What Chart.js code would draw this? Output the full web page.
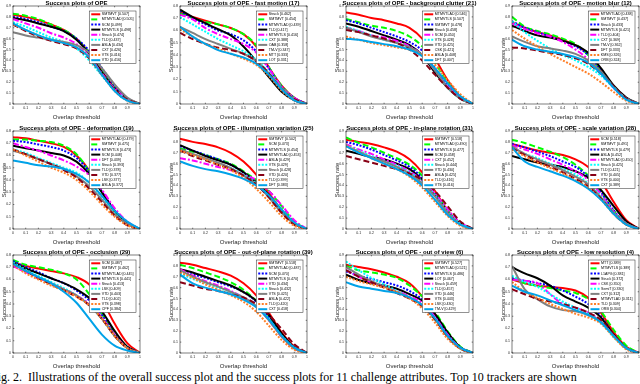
<!DOCTYPE html>
<html>
<head>
<meta charset="utf-8">
<script src="https://cdn.jsdelivr.net/npm/chart.js@4"></script>
<style>
html, body { margin: 0; padding: 0; background: #fff; overflow: hidden; width: 640px; height: 384px; position: relative; }
canvas { position: absolute; }
#caption { position: absolute; left: -9px; top: 370px; font: 12px "Liberation Serif", serif; white-space: nowrap; color: #000; }
</style>
</head>
<body>
<div id="caption">Fig. 2.&nbsp; Illustrations of the overall success plot and the success plots for 11 challenge attributes. Top 10 trackers are shown</div>
<script>
// overlap thresholds sampled along x
const thresholds = [0, 0.1, 0.2, 0.3, 0.4, 0.5, 0.6, 0.7, 0.8, 0.9, 1];

const titles = [
  'Success plots of OPE',
  'Success plots of OPE - fast motion (17)',
  'Success plots of OPE - background clutter (21)',
  'Success plots of OPE - motion blur (12)',
  'Success plots of OPE - deformation (19)',
  'Success plots of OPE - illumination variation (25)',
  'Success plots of OPE - in-plane rotation (31)',
  'Success plots of OPE - scale variation (28)',
  'Success plots of OPE - occlusion (29)',
  'Success plots of OPE - out-of-plane rotation (39)',
  'Success plots of OPE - out of view (6)',
  'Success plots of OPE - low resolution (4)'
];
const yMax = [0.9, 0.8, 0.9, 0.9, 0.8, 0.9, 0.9, 0.9, 0.8, 0.9, 0.9, 0.8];

// overall
const overallNames = ['SMTMVT', 'MTMVTLAD', 'SCM', 'MTMVTLS', 'Struck', 'TLD', 'ASLA', 'CXT', 'VTS', 'VTD'];
const overallScores = ['0.507', '0.505', '0.499', '0.498', '0.474', '0.437', '0.434', '0.426', '0.416', '0.416'];
const overallCurves = [
  [0.82, 0.80, 0.77, 0.73, 0.68, 0.60, 0.47, 0.30, 0.15, 0.05, 0],
  [0.83, 0.81, 0.78, 0.73, 0.68, 0.60, 0.47, 0.30, 0.15, 0.05, 0],
  [0.80, 0.78, 0.75, 0.71, 0.67, 0.60, 0.49, 0.33, 0.17, 0.05, 0],
  [0.79, 0.77, 0.74, 0.71, 0.67, 0.59, 0.46, 0.29, 0.14, 0.05, 0],
  [0.78, 0.74, 0.70, 0.65, 0.61, 0.55, 0.44, 0.28, 0.14, 0.05, 0],
  [0.75, 0.71, 0.66, 0.61, 0.57, 0.51, 0.40, 0.26, 0.13, 0.04, 0],
  [0.66, 0.63, 0.61, 0.59, 0.57, 0.54, 0.47, 0.33, 0.18, 0.06, 0],
  [0.73, 0.67, 0.62, 0.58, 0.55, 0.51, 0.42, 0.27, 0.13, 0.04, 0],
  [0.73, 0.68, 0.63, 0.59, 0.56, 0.52, 0.43, 0.27, 0.12, 0.03, 0],
  [0.74, 0.68, 0.63, 0.59, 0.56, 0.52, 0.43, 0.27, 0.12, 0.03, 0]
];

// fast motion
const fastNames = ['Struck', 'SMTMVT', 'MTMVTLAD', 'TLD', 'MTMVTLS', 'CXT', 'OAB', 'TM-V', 'MTT', 'LOT'];
const fastScores = ['0.462', '0.454', '0.439', '0.417', '0.416', '0.388', '0.358', '0.347', '0.333', '0.331'];
const fastCurves = [
  [0.75, 0.71, 0.68, 0.65, 0.62, 0.57, 0.47, 0.30, 0.15, 0.05, 0],
  [0.74, 0.70, 0.67, 0.65, 0.62, 0.57, 0.48, 0.30, 0.15, 0.05, 0],
  [0.76, 0.70, 0.65, 0.60, 0.57, 0.52, 0.43, 0.29, 0.14, 0.05, 0],
  [0.77, 0.71, 0.66, 0.61, 0.56, 0.47, 0.35, 0.22, 0.10, 0.03, 0],
  [0.73, 0.69, 0.62, 0.57, 0.53, 0.49, 0.42, 0.29, 0.14, 0.05, 0],
  [0.71, 0.65, 0.59, 0.53, 0.48, 0.43, 0.36, 0.26, 0.13, 0.04, 0],
  [0.63, 0.58, 0.53, 0.49, 0.45, 0.41, 0.35, 0.25, 0.13, 0.04, 0],
  [0.58, 0.53, 0.49, 0.46, 0.44, 0.41, 0.35, 0.25, 0.12, 0.04, 0],
  [0.61, 0.55, 0.49, 0.45, 0.41, 0.37, 0.32, 0.23, 0.11, 0.03, 0],
  [0.63, 0.55, 0.49, 0.44, 0.41, 0.38, 0.33, 0.24, 0.12, 0.03, 0]
];

// background clutter
const clutterNames = ['MTMVTLAD', 'MTMVTLS', 'SMTMVT', 'Struck', 'SCM', 'VTS', 'VTD', 'CSK', 'ASLA', 'DFT'];
const clutterScores = ['0.546', '0.507', '0.478', '0.458', '0.450', '0.428', '0.425', '0.421', '0.408', '0.407'];
const clutterCurves = [
  [0.84, 0.82, 0.79, 0.77, 0.74, 0.70, 0.60, 0.42, 0.22, 0.07, 0],
  [0.78, 0.75, 0.72, 0.70, 0.67, 0.62, 0.53, 0.38, 0.20, 0.07, 0],
  [0.77, 0.74, 0.70, 0.66, 0.62, 0.57, 0.49, 0.33, 0.17, 0.06, 0],
  [0.74, 0.71, 0.67, 0.63, 0.59, 0.54, 0.45, 0.29, 0.15, 0.05, 0],
  [0.70, 0.67, 0.63, 0.61, 0.58, 0.53, 0.45, 0.31, 0.16, 0.06, 0],
  [0.71, 0.67, 0.63, 0.59, 0.56, 0.52, 0.45, 0.31, 0.15, 0.05, 0],
  [0.70, 0.66, 0.62, 0.59, 0.56, 0.52, 0.45, 0.31, 0.15, 0.05, 0],
  [0.68, 0.66, 0.63, 0.60, 0.56, 0.50, 0.40, 0.27, 0.15, 0.05, 0],
  [0.62, 0.59, 0.56, 0.54, 0.52, 0.50, 0.45, 0.36, 0.22, 0.09, 0],
  [0.60, 0.59, 0.57, 0.55, 0.53, 0.50, 0.44, 0.33, 0.19, 0.07, 0]
];

// motion blur
const blurNames = ['MTMVTLAD', 'SMTMVT', 'Struck', 'MTMVTLS', 'TLD', 'CXT', 'TM-V', 'DFT', 'KMS', 'ORB'];
const blurScores = ['0.438', '0.437', '0.433', '0.421', '0.404', '0.369', '0.362', '0.333', '0.326', '0.324'];
const blurCurves = [
  [0.75, 0.70, 0.66, 0.63, 0.59, 0.54, 0.46, 0.32, 0.16, 0.05, 0],
  [0.80, 0.71, 0.67, 0.64, 0.60, 0.55, 0.45, 0.31, 0.16, 0.05, 0],
  [0.76, 0.70, 0.66, 0.62, 0.58, 0.53, 0.45, 0.31, 0.15, 0.05, 0],
  [0.72, 0.67, 0.63, 0.61, 0.58, 0.54, 0.47, 0.33, 0.17, 0.06, 0],
  [0.74, 0.69, 0.65, 0.62, 0.57, 0.50, 0.41, 0.28, 0.15, 0.05, 0],
  [0.76, 0.66, 0.58, 0.51, 0.45, 0.40, 0.34, 0.26, 0.15, 0.05, 0],
  [0.62, 0.57, 0.53, 0.51, 0.49, 0.46, 0.40, 0.30, 0.16, 0.05, 0],
  [0.52, 0.51, 0.49, 0.47, 0.45, 0.42, 0.37, 0.28, 0.16, 0.05, 0],
  [0.68, 0.60, 0.53, 0.46, 0.40, 0.34, 0.28, 0.20, 0.11, 0.03, 0],
  [0.59, 0.53, 0.50, 0.48, 0.46, 0.43, 0.38, 0.28, 0.15, 0.04, 0]
];

// deformation
const deformNames = ['MTMVTLAD', 'SMTMVT', 'MTMVTLS', 'SCM', 'DFT', 'Struck', 'TLD', 'VTD', 'LSK', 'ASLA'];
const deformScores = ['0.479', '0.475', '0.473', '0.448', '0.439', '0.393', '0.378', '0.377', '0.377', '0.372'];
const deformCurves = [
  [0.75, 0.74, 0.72, 0.70, 0.67, 0.60, 0.48, 0.30, 0.14, 0.05, 0],
  [0.73, 0.73, 0.72, 0.71, 0.68, 0.61, 0.47, 0.30, 0.14, 0.05, 0],
  [0.72, 0.71, 0.69, 0.67, 0.64, 0.58, 0.47, 0.31, 0.15, 0.05, 0],
  [0.68, 0.66, 0.64, 0.62, 0.60, 0.55, 0.45, 0.30, 0.15, 0.05, 0],
  [0.70, 0.67, 0.64, 0.60, 0.56, 0.51, 0.44, 0.32, 0.17, 0.06, 0],
  [0.65, 0.62, 0.58, 0.54, 0.50, 0.46, 0.38, 0.26, 0.13, 0.04, 0],
  [0.64, 0.61, 0.57, 0.53, 0.49, 0.43, 0.35, 0.24, 0.12, 0.04, 0],
  [0.65, 0.61, 0.57, 0.53, 0.48, 0.42, 0.33, 0.22, 0.11, 0.03, 0],
  [0.65, 0.60, 0.55, 0.50, 0.46, 0.40, 0.31, 0.20, 0.10, 0.03, 0],
  [0.56, 0.54, 0.52, 0.51, 0.49, 0.45, 0.38, 0.27, 0.15, 0.06, 0]
];

// illumination variation
const illumNames = ['SMTMVT', 'SCM', 'MTMVTLS', 'MTMVTLAD', 'ASLA', 'VTS', 'Struck', 'VTD', 'TLD', 'DFT'];
const illumScores = ['0.502', '0.473', '0.454', '0.453', '0.429', '0.429', '0.428', '0.420', '0.399', '0.383'];
const illumCurves = [
  [0.83, 0.80, 0.78, 0.75, 0.70, 0.62, 0.50, 0.33, 0.17, 0.05, 0],
  [0.74, 0.71, 0.68, 0.64, 0.60, 0.53, 0.45, 0.35, 0.21, 0.07, 0],
  [0.76, 0.72, 0.68, 0.64, 0.59, 0.52, 0.43, 0.31, 0.17, 0.05, 0],
  [0.77, 0.72, 0.67, 0.63, 0.59, 0.52, 0.43, 0.31, 0.17, 0.05, 0],
  [0.65, 0.63, 0.60, 0.57, 0.54, 0.50, 0.45, 0.35, 0.22, 0.08, 0],
  [0.72, 0.68, 0.64, 0.60, 0.56, 0.50, 0.42, 0.30, 0.16, 0.05, 0],
  [0.73, 0.69, 0.65, 0.61, 0.56, 0.49, 0.41, 0.29, 0.15, 0.05, 0],
  [0.72, 0.67, 0.63, 0.59, 0.55, 0.49, 0.41, 0.29, 0.15, 0.04, 0],
  [0.72, 0.68, 0.64, 0.59, 0.54, 0.47, 0.37, 0.25, 0.12, 0.03, 0],
  [0.62, 0.58, 0.55, 0.53, 0.50, 0.46, 0.40, 0.31, 0.18, 0.06, 0]
];

// in-plane rotation
const inplaneNames = ['SMTMVT', 'MTMVTLAD', 'MTMVTLS', 'SCM', 'CXT', 'Struck', 'VTD', 'ASLA', 'TLD', 'VTS'];
const inplaneScores = ['0.518', '0.490', '0.477', '0.458', '0.452', '0.444', '0.430', '0.425', '0.416', '0.416'];
const inplaneCurves = [
  [0.82, 0.80, 0.78, 0.75, 0.71, 0.64, 0.52, 0.35, 0.17, 0.05, 0],
  [0.84, 0.79, 0.75, 0.70, 0.65, 0.59, 0.49, 0.34, 0.17, 0.05, 0],
  [0.80, 0.77, 0.73, 0.68, 0.63, 0.57, 0.47, 0.32, 0.16, 0.05, 0],
  [0.72, 0.69, 0.66, 0.64, 0.60, 0.55, 0.45, 0.31, 0.16, 0.05, 0],
  [0.78, 0.73, 0.69, 0.64, 0.59, 0.53, 0.45, 0.33, 0.18, 0.06, 0],
  [0.77, 0.72, 0.67, 0.62, 0.58, 0.52, 0.44, 0.31, 0.16, 0.05, 0],
  [0.76, 0.71, 0.66, 0.62, 0.57, 0.51, 0.42, 0.30, 0.15, 0.04, 0],
  [0.67, 0.64, 0.61, 0.58, 0.55, 0.51, 0.45, 0.35, 0.21, 0.07, 0],
  [0.77, 0.71, 0.65, 0.60, 0.55, 0.48, 0.38, 0.25, 0.12, 0.03, 0],
  [0.76, 0.70, 0.65, 0.60, 0.55, 0.49, 0.40, 0.27, 0.13, 0.04, 0]
];

// scale variation
const scaleNames = ['SCM', 'SMTMVT', 'MTMVTLS', 'ASLA', 'MTMVTLAD', 'Struck', 'TLD', 'VTD', 'VTS', 'CXT'];
const scaleScores = ['0.518', '0.491', '0.479', '0.452', '0.450', '0.425', '0.421', '0.405', '0.400', '0.389'];
const scaleCurves = [
  [0.78, 0.75, 0.72, 0.70, 0.68, 0.64, 0.57, 0.44, 0.25, 0.08, 0],
  [0.82, 0.79, 0.75, 0.71, 0.66, 0.59, 0.49, 0.34, 0.17, 0.05, 0],
  [0.78, 0.75, 0.71, 0.67, 0.62, 0.57, 0.48, 0.34, 0.17, 0.05, 0],
  [0.67, 0.64, 0.61, 0.59, 0.57, 0.53, 0.47, 0.36, 0.21, 0.07, 0],
  [0.77, 0.73, 0.69, 0.64, 0.59, 0.53, 0.45, 0.32, 0.16, 0.05, 0],
  [0.74, 0.69, 0.65, 0.60, 0.55, 0.50, 0.42, 0.30, 0.15, 0.05, 0],
  [0.76, 0.69, 0.64, 0.59, 0.54, 0.48, 0.41, 0.29, 0.15, 0.05, 0],
  [0.74, 0.68, 0.62, 0.57, 0.52, 0.46, 0.39, 0.28, 0.14, 0.04, 0],
  [0.73, 0.67, 0.61, 0.56, 0.51, 0.45, 0.38, 0.27, 0.14, 0.04, 0],
  [0.75, 0.62, 0.57, 0.53, 0.49, 0.44, 0.37, 0.27, 0.14, 0.04, 0]
];

// occlusion
const occlNames = ['SCM', 'SMTMVT', 'MTMVTLAD', 'MTMVTLS', 'Struck', 'LSK', 'VTD', 'TLD', 'VTS', 'CPF'];
const occlScores = ['0.487', '0.462', '0.445', '0.441', '0.413', '0.409', '0.403', '0.402', '0.398', '0.384'];
const occlCurves = [
  [0.74, 0.71, 0.69, 0.67, 0.65, 0.62, 0.56, 0.43, 0.24, 0.08, 0],
  [0.76, 0.72, 0.70, 0.68, 0.65, 0.60, 0.48, 0.32, 0.16, 0.05, 0],
  [0.75, 0.70, 0.66, 0.61, 0.57, 0.51, 0.43, 0.31, 0.15, 0.05, 0],
  [0.74, 0.69, 0.65, 0.61, 0.57, 0.52, 0.45, 0.34, 0.18, 0.05, 0],
  [0.71, 0.66, 0.61, 0.57, 0.52, 0.47, 0.40, 0.29, 0.15, 0.04, 0],
  [0.74, 0.68, 0.63, 0.58, 0.53, 0.47, 0.39, 0.28, 0.14, 0.04, 0],
  [0.73, 0.67, 0.62, 0.57, 0.52, 0.47, 0.39, 0.28, 0.14, 0.04, 0],
  [0.73, 0.67, 0.61, 0.56, 0.51, 0.46, 0.39, 0.28, 0.14, 0.04, 0],
  [0.72, 0.65, 0.60, 0.55, 0.51, 0.46, 0.39, 0.28, 0.14, 0.04, 0],
  [0.73, 0.67, 0.62, 0.57, 0.50, 0.41, 0.28, 0.15, 0.06, 0.02, 0]
];

// out-of-plane rotation
const outplaneNames = ['SMTMVT', 'MTMVTLAD', 'SCM', 'MTMVTLS', 'VTD', 'Struck', 'VTS', 'ASLA', 'TLD', 'CXT'];
const outplaneScores = ['0.518', '0.487', '0.470', '0.470', '0.434', '0.432', '0.425', '0.422', '0.420', '0.418'];
const outplaneCurves = [
  [0.83, 0.81, 0.78, 0.75, 0.71, 0.64, 0.53, 0.37, 0.19, 0.06, 0],
  [0.81, 0.78, 0.74, 0.70, 0.65, 0.58, 0.48, 0.34, 0.17, 0.05, 0],
  [0.75, 0.72, 0.69, 0.65, 0.61, 0.56, 0.47, 0.33, 0.17, 0.05, 0],
  [0.77, 0.74, 0.70, 0.66, 0.62, 0.56, 0.48, 0.35, 0.18, 0.05, 0],
  [0.77, 0.71, 0.66, 0.62, 0.57, 0.51, 0.43, 0.30, 0.15, 0.04, 0],
  [0.73, 0.68, 0.64, 0.60, 0.56, 0.51, 0.43, 0.31, 0.16, 0.05, 0],
  [0.76, 0.70, 0.65, 0.61, 0.56, 0.51, 0.43, 0.30, 0.15, 0.04, 0],
  [0.65, 0.62, 0.59, 0.57, 0.54, 0.51, 0.45, 0.35, 0.22, 0.08, 0],
  [0.74, 0.69, 0.63, 0.58, 0.53, 0.47, 0.38, 0.25, 0.12, 0.03, 0],
  [0.72, 0.64, 0.60, 0.57, 0.54, 0.49, 0.42, 0.31, 0.16, 0.05, 0]
];

// out of view
const viewNames = ['SMTMVT', 'MTMVTLAD', 'MTMVTLS', 'LOT', 'Struck', 'TLD', 'VTD', 'VTS', 'LSK', 'TM-V'];
const viewScores = ['0.527', '0.521', '0.486', '0.467', '0.459', '0.457', '0.446', '0.443', '0.430', '0.429'];
const viewCurves = [
  [0.81, 0.79, 0.77, 0.74, 0.70, 0.64, 0.52, 0.36, 0.18, 0.05, 0],
  [0.80, 0.76, 0.74, 0.72, 0.69, 0.62, 0.52, 0.38, 0.20, 0.06, 0],
  [0.75, 0.71, 0.68, 0.65, 0.62, 0.57, 0.49, 0.35, 0.18, 0.05, 0],
  [0.72, 0.67, 0.64, 0.62, 0.59, 0.54, 0.48, 0.36, 0.19, 0.05, 0],
  [0.76, 0.70, 0.65, 0.61, 0.57, 0.52, 0.46, 0.33, 0.17, 0.05, 0],
  [0.84, 0.76, 0.69, 0.63, 0.57, 0.51, 0.43, 0.30, 0.15, 0.04, 0],
  [0.79, 0.72, 0.66, 0.61, 0.56, 0.51, 0.44, 0.31, 0.15, 0.04, 0],
  [0.76, 0.70, 0.65, 0.60, 0.55, 0.50, 0.43, 0.31, 0.15, 0.04, 0],
  [0.70, 0.66, 0.63, 0.60, 0.56, 0.50, 0.41, 0.28, 0.13, 0.04, 0],
  [0.65, 0.61, 0.59, 0.57, 0.55, 0.51, 0.44, 0.32, 0.16, 0.05, 0]
];

// low resolution
const lowresNames = ['MTT', 'MTMVTLS', 'L1APG', 'Struck', 'CSK', 'SemiT', 'CXT', 'MTMVTLAD', 'TLD', 'ORB'];
const lowresScores = ['0.389', '0.389', '0.381', '0.372', '0.350', '0.330', '0.312', '0.311', '0.309', '0.304'];
const lowresCurves = [
  [0.60, 0.57, 0.55, 0.54, 0.53, 0.51, 0.45, 0.33, 0.17, 0.05, 0],
  [0.61, 0.57, 0.55, 0.53, 0.51, 0.49, 0.44, 0.34, 0.19, 0.06, 0],
  [0.61, 0.59, 0.57, 0.55, 0.51, 0.46, 0.40, 0.30, 0.15, 0.04, 0],
  [0.70, 0.65, 0.61, 0.55, 0.47, 0.42, 0.37, 0.29, 0.15, 0.04, 0],
  [0.60, 0.59, 0.57, 0.48, 0.40, 0.37, 0.33, 0.26, 0.14, 0.04, 0],
  [0.63, 0.58, 0.54, 0.48, 0.42, 0.37, 0.32, 0.25, 0.13, 0.04, 0],
  [0.71, 0.52, 0.44, 0.38, 0.35, 0.34, 0.31, 0.26, 0.14, 0.04, 0],
  [0.52, 0.48, 0.44, 0.42, 0.40, 0.37, 0.33, 0.27, 0.15, 0.04, 0],
  [0.58, 0.50, 0.45, 0.40, 0.36, 0.32, 0.29, 0.24, 0.13, 0.03, 0],
  [0.55, 0.50, 0.47, 0.43, 0.39, 0.35, 0.31, 0.25, 0.14, 0.04, 0]
];

// rank styles (OTB plot style)
const rankColors = ['#ff0000', '#00ff00', '#0000ff', '#000000', '#ff00ff', '#00ffff', '#808080', '#880015', '#ff7f27', '#00a2e8'];
const rankDashes = [[], [6, 3], [2, 1.5], [], [6, 2, 2, 2], [2, 1.5], [], [6, 3], [2, 1.5], []];

const panels = [
  [overallNames, overallScores, overallCurves],
  [fastNames, fastScores, fastCurves],
  [clutterNames, clutterScores, clutterCurves],
  [blurNames, blurScores, blurCurves],
  [deformNames, deformScores, deformCurves],
  [illumNames, illumScores, illumCurves],
  [inplaneNames, inplaneScores, inplaneCurves],
  [scaleNames, scaleScores, scaleCurves],
  [occlNames, occlScores, occlCurves],
  [outplaneNames, outplaneScores, outplaneCurves],
  [viewNames, viewScores, viewCurves],
  [lowresNames, lowresScores, lowresCurves]
];

const colLeft = [13, 180, 346, 512];
const rowTop = [6, 131, 255];
const padL = 12, padR = 14;

Chart.defaults.font.family = '"Liberation Sans", Arial, sans-serif';
Chart.defaults.color = '#262626';

const fmt = v => String(Number(v.toFixed(1)));

// title, box, inward ticks and legend, drawn on top of the curves
const matlabAxes = {
  id: 'matlabAxes',
  afterDatasetsDraw(chart, args, opts) {
    const { ctx, chartArea: a } = chart;
    const ds = chart.data.datasets.slice().reverse(); // legend in rank order
    ctx.save();

    // legend
    ctx.font = '3.6px "Liberation Sans", Arial';
    const tw = Math.max(...ds.map(d => ctx.measureText(d.label).width));
    const rowH = 5.1;
    const w = tw + 15, h = rowH * ds.length + 1.5;
    const x0 = a.right - 4 - w, y0 = a.top + 5;
    ctx.fillStyle = '#fff';
    ctx.fillRect(x0, y0, w, h);
    ctx.strokeStyle = '#262626';
    ctx.lineWidth = 0.5;
    ctx.strokeRect(x0, y0, w, h);
    ds.forEach((d, i) => {
      const y = y0 + 0.75 + rowH * (i + 0.5);
      ctx.strokeStyle = d.borderColor;
      ctx.lineWidth = d.borderWidth;
      ctx.setLineDash(d.borderDash);
      ctx.beginPath();
      ctx.moveTo(x0 + 2, y);
      ctx.lineTo(x0 + 11, y);
      ctx.stroke();
      ctx.setLineDash([]);
      ctx.fillStyle = '#000';
      ctx.textBaseline = 'middle';
      ctx.textAlign = 'left';
      ctx.fillText(d.label, x0 + 12.5, y);
    });

    // box
    ctx.strokeStyle = '#262626';
    ctx.lineWidth = 0.6;
    ctx.strokeRect(a.left, a.top, a.right - a.left, a.bottom - a.top);
    ctx.beginPath();
    chart.scales.x.ticks.forEach(t => {
      const x = chart.scales.x.getPixelForValue(t.value);
      ctx.moveTo(x, a.bottom); ctx.lineTo(x, a.bottom - 1.3);
      ctx.moveTo(x, a.top); ctx.lineTo(x, a.top + 1.3);
    });
    chart.scales.y.ticks.forEach(t => {
      const y = chart.scales.y.getPixelForValue(t.value);
      ctx.moveTo(a.left, y); ctx.lineTo(a.left + 1.3, y);
      ctx.moveTo(a.right, y); ctx.lineTo(a.right - 1.3, y);
    });
    ctx.stroke();

    // title
    ctx.font = 'bold 6px "Liberation Sans", Arial';
    ctx.fillStyle = '#000';
    ctx.textAlign = 'center';
    ctx.textBaseline = 'alphabetic';
    ctx.fillText(opts.text, (a.left + a.right) / 2, a.top - 1.3);
    ctx.restore();
  }
};

panels.forEach(([names, scores, curves], i) => {
  const col = i % 4, row = Math.floor(i / 4);
  const cv = document.createElement('canvas');
  cv.width = padL + 14 + 127 + padR;
  cv.height = 125;
  cv.style.left = (colLeft[col] - 14 - padL) + 'px';
  cv.style.top = (rowTop[row] - 7) + 'px';
  document.body.appendChild(cv);

  new Chart(cv.getContext('2d'), {
    type: 'line',
    data: {
      // drawn last-ranked first so the leading curves sit on top
      datasets: curves.map((c, k) => ({
        label: names[k] + ' [' + scores[k] + ']',
        data: c.map((v, j) => ({ x: thresholds[j], y: v })),
        borderColor: rankColors[k],
        borderDash: rankDashes[k],
        borderWidth: 2,
        pointRadius: 0,
        fill: false,
        cubicInterpolationMode: 'monotone'
      })).reverse()
    },
    options: {
      responsive: false,
      animation: false,
      layout: { padding: { top: 7, right: padR, left: padL, bottom: 0 } },
      plugins: {
        legend: { display: false },
        tooltip: { enabled: false },
        matlabAxes: { text: titles[i] }
      },
      scales: {
        x: {
          type: 'linear', min: 0, max: 1,
          grid: { display: false, drawTicks: false },
          border: { display: false },
          ticks: { stepSize: 0.1, font: { size: 3.5 }, padding: 2, maxRotation: 0, autoSkip: false, callback: fmt },
          title: { display: true, text: 'Overlap threshold', font: { size: 6 }, padding: { top: 0, bottom: 3 } },
          afterFit: s => { s.height = 20; }
        },
        y: {
          min: 0, max: yMax[i],
          grid: { display: false, drawTicks: false },
          border: { display: false },
          ticks: { stepSize: 0.1, font: { size: 3.5 }, padding: 2, autoSkip: false, callback: fmt },
          title: { display: true, text: 'Success rate', font: { size: 6 }, padding: { top: 2, bottom: 0 } },
          afterFit: s => { s.width = 14; }
        }
      }
    },
    plugins: [matlabAxes]
  });
});
</script>
</body>
</html>
